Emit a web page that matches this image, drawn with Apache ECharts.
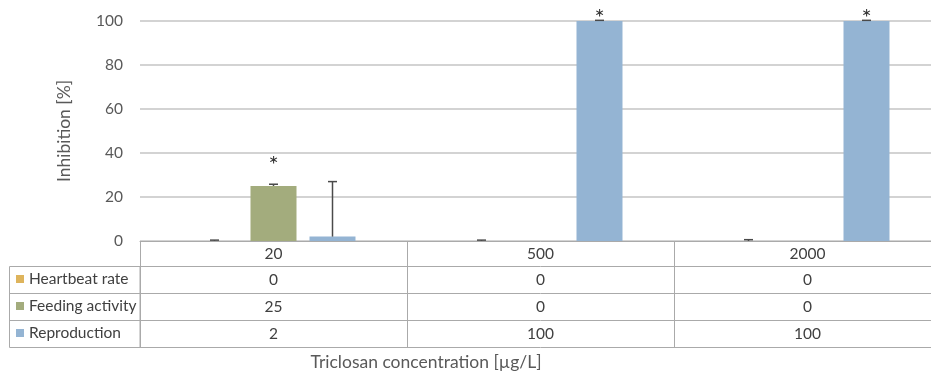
<!DOCTYPE html>
<html>
<head>
<meta charset="utf-8">
<script src="https://cdn.jsdelivr.net/npm/echarts@6/dist/echarts.min.js"></script>
<style>
  html, body { margin: 0; padding: 0; overflow: hidden; background: #fff; }
  #chart { width: 941px; height: 374px; }
</style>
</head>
<body>
<div id="chart"></div>
<script>
// Triclosan effects: inhibition (%) per concentration
const concentrations = ['20', '500', '2000'];
const seriesNames = ['Heartbeat rate', 'Feeding activity', 'Reproduction'];
const heartbeat = [0, 0, 0];
const feeding = [25, 0, 0];
const reproduction = [2, 100, 100];
// upper error (SD)
const heartbeatErr = [0.4, 0.4, 0.6];
const feedingErr = [0.8, 0, 0];
const reproductionErr = [25, 0.3, 0.3];
// significance asterisks: height (in % units) where the mark is placed, null = none
const heartbeatStar = [null, null, null];
const feedingStar = [36.5, null, null];
const reproductionStar = [null, 103.6, 103.6];
const yTicks = [0, 20, 40, 60, 80, 100];

const colors = ['#DEB45C', '#A3AC7D', '#94B4D3'];
const FONT = 'Lato, "Open Sans", sans-serif';
const TXT = '#404040';
const AX = '#595959';
const LINE = '#aaaaaa';
const BAR_W = 46, BAR_GAP = 13;
const offsets = [-(BAR_W + BAR_GAP), 0, BAR_W + BAR_GAP];

const values = [heartbeat, feeding, reproduction];
const errs = [heartbeatErr, feedingErr, reproductionErr];
const stars = [heartbeatStar, feedingStar, reproductionStar];

const chart = echarts.init(document.getElementById('chart'), null, { renderer: 'canvas' });

function rowAxis(offset, arr) {
  return {
    type: 'category', gridIndex: 0, position: 'bottom', offset: offset,
    data: concentrations,
    axisLine: { show: true, lineStyle: { color: LINE, width: 1 } },
    axisTick: { show: true, interval: 0, length: 27, lineStyle: { color: LINE } },
    axisLabel: {
      interval: 0, margin: 6, color: TXT, fontFamily: FONT, fontSize: 15.5,
      formatter: (v, i) => String(arr[i])
    },
    splitLine: { show: false }
  };
}

const barSeries = seriesNames.map((name, s) => ({
  name: name, type: 'bar', xAxisIndex: 0, yAxisIndex: 0,
  data: values[s], barWidth: BAR_W,
  barGap: (BAR_GAP / BAR_W * 100).toFixed(2) + '%',
  itemStyle: { color: colors[s] },
  z: 2
}));

const errSeries = seriesNames.map((name, s) => ({
  type: 'custom', xAxisIndex: 0, yAxisIndex: 0, z: 3, silent: true,
  data: values[s].map((v, i) => [i, v, errs[s][i]]).filter(d => d[2] > 0),
  renderItem: function (params, api) {
    const x = api.coord([api.value(0), 0])[0] + offsets[s];
    const yBase = api.coord([api.value(0), api.value(1)])[1];
    const yTop = api.coord([api.value(0), api.value(1) + api.value(2)])[1];
    const st = { stroke: '#4a4a4a', lineWidth: 1.5 };
    return {
      type: 'group',
      children: [
        { type: 'line', shape: { x1: x, y1: yBase, x2: x, y2: yTop }, style: st },
        { type: 'line', shape: { x1: x - 4.5, y1: yTop, x2: x + 4.5, y2: yTop }, style: st }
      ]
    };
  }
}));

const starSeries = seriesNames.map((name, s) => ({
  type: 'custom', xAxisIndex: 0, yAxisIndex: 0, z: 4, silent: true, clip: false,
  data: stars[s].map((v, i) => [i, v]).filter(d => d[1] !== null),
  renderItem: function (params, api) {
    const p = api.coord([api.value(0), api.value(1)]);
    return {
      type: 'text',
      x: p[0] + offsets[s], y: p[1] + 5,
      style: { text: '*', fill: '#333', font: '24px ' + FONT, align: 'center', verticalAlign: 'middle' }
    };
  }
}));

const legends = seriesNames.map((name, s) => ({
  data: [name], orient: 'vertical', left: 16, top: 271 + s * 27,
  padding: 0, icon: 'rect', itemWidth: 8, itemHeight: 8,
  selectedMode: false,
  textStyle: { color: TXT, fontFamily: FONT, fontSize: 15.5 }
}));

const option = {
  animation: false,
  backgroundColor: '#ffffff',
  color: colors,
  legend: legends,
  grid: { left: 140, top: 21, width: 801, height: 220, containLabel: false },
  xAxis: [
    {
      type: 'category', data: concentrations, position: 'bottom',
      axisLine: { show: true, lineStyle: { color: LINE } },
      axisTick: { show: true, interval: 0, length: 25, lineStyle: { color: LINE } },
      axisLabel: { interval: 0, margin: 5, color: TXT, fontFamily: FONT, fontSize: 15.5 },
      splitLine: { show: false }
    },
    rowAxis(25, heartbeat),
    rowAxis(52, feeding),
    rowAxis(79, reproduction)
  ],
  yAxis: {
    type: 'value', min: yTicks[0], max: yTicks[yTicks.length - 1], interval: 20,
    name: 'Inhibition [%]', nameLocation: 'middle', nameGap: 67,
    nameTextStyle: { color: AX, fontFamily: FONT, fontSize: 17.5 },
    axisLine: { show: false }, axisTick: { show: false },
    axisLabel: { color: AX, fontFamily: FONT, fontSize: 15.5, margin: 17 },
    splitLine: { lineStyle: { color: '#c4c4c4', width: 1.5 } }
  },
  graphic: [
    { type: 'rect', shape: { x: 9.5, y: 266.5, width: 130.5, height: 81 },
      style: { fill: 'none', stroke: LINE, lineWidth: 1 }, silent: true },
    { type: 'line', shape: { x1: 9.5, y1: 293.5, x2: 140, y2: 293.5 }, style: { stroke: LINE, lineWidth: 1 } },
    { type: 'line', shape: { x1: 9.5, y1: 320.5, x2: 140, y2: 320.5 }, style: { stroke: LINE, lineWidth: 1 } },
    { type: 'line', shape: { x1: 140, y1: 347.5, x2: 941, y2: 347.5 }, style: { stroke: LINE, lineWidth: 1 } },
    { type: 'text', x: 426, y: 362,
      style: { text: 'Triclosan concentration [µg/L]', fill: AX, font: '17.5px ' + FONT,
               align: 'center', verticalAlign: 'middle' } }
  ],
  series: [...barSeries, ...errSeries, ...starSeries]
};

chart.setOption(option);
</script>
</body>
</html>
